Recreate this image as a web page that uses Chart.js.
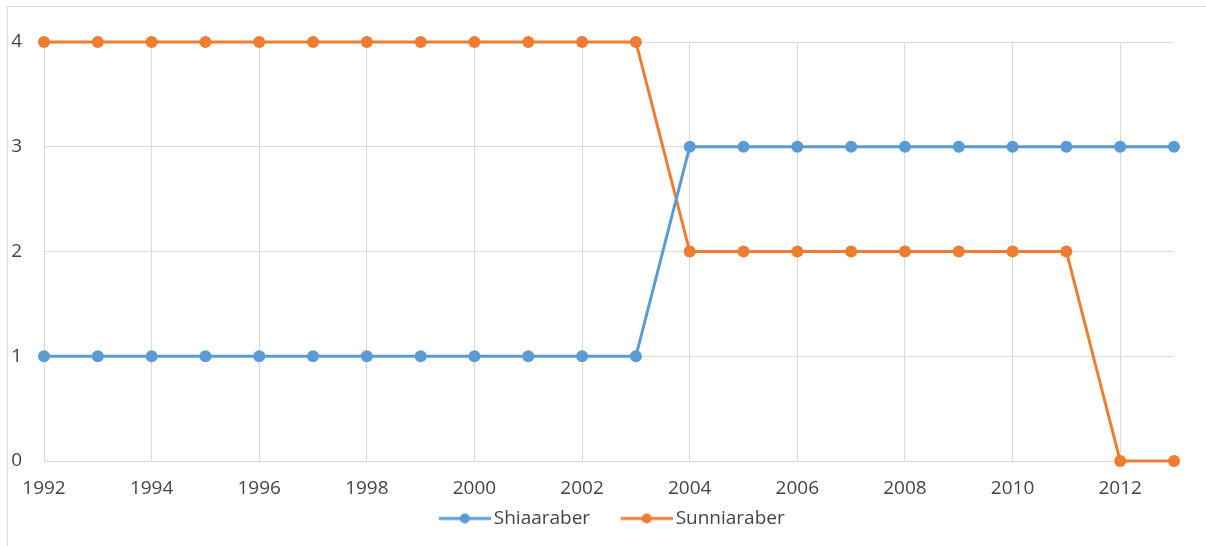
<!DOCTYPE html>
<html>
<head>
<meta charset="utf-8">
<script src="https://cdn.jsdelivr.net/npm/chart.js@4.4.1/dist/chart.umd.min.js"></script>
<style>
  html, body { margin: 0; padding: 0; background: #ffffff; }
  #wrap { position: relative; width: 1206px; height: 546px; }
</style>
</head>
<body>
<div id="wrap"><canvas id="chart" width="1206" height="546"></canvas></div>
<script>
// Years and values per group
const years = [1992, 1993, 1994, 1995, 1996, 1997, 1998, 1999, 2000, 2001, 2002,
               2003, 2004, 2005, 2006, 2007, 2008, 2009, 2010, 2011, 2012, 2013];
const shiaaraber  = [1, 1, 1, 1, 1, 1, 1, 1, 1, 1, 1, 1, 3, 3, 3, 3, 3, 3, 3, 3, 3, 3];
const sunniaraber = [4, 4, 4, 4, 4, 4, 4, 4, 4, 4, 4, 4, 2, 2, 2, 2, 2, 2, 2, 2, 0, 0];
const yTicks = [0, 1, 2, 3, 4];
const seriesNames = ['Shiaaraber', 'Sunniaraber'];

const BLUE = '#5b9bd5';
const ORANGE = '#ed7d31';
const GRID = '#d9d9d9';
const TEXT = '#454545';
const FONT = '"Open Sans", "Liberation Sans", sans-serif';

// Legend marker: a short line with a dot in the middle
function legendMarker(color) {
  const c = document.createElement('canvas');
  c.width = 82; c.height = 14;
  const g = c.getContext('2d');
  g.strokeStyle = color;
  g.lineWidth = 3;
  g.beginPath();
  g.moveTo(30, 7); g.lineTo(82, 7);
  g.stroke();
  g.fillStyle = color;
  g.beginPath();
  g.arc(56, 7, 5, 0, Math.PI * 2);
  g.fill();
  return c;
}

function toPoints(vals) {
  return vals.map((v, i) => ({ x: years[i], y: v }));
}

// Outer frame line along the left and top edges
const framePlugin = {
  id: 'frame',
  beforeDraw(chart) {
    const ctx = chart.ctx;
    ctx.save();
    ctx.strokeStyle = GRID;
    ctx.lineWidth = 1;
    ctx.beginPath();
    ctx.moveTo(7.5, chart.height);
    ctx.lineTo(7.5, 6.5);
    ctx.lineTo(chart.width, 6.5);
    ctx.stroke();
    ctx.restore();
  }
};

// Nudge the legend row a little to the right
const legendShift = {
  id: 'legendShift',
  afterLayout(chart) {
    if (chart.legend) {
      chart.legend.left += 13;
      chart.legend.right += 13;
    }
  }
};

function series(label, vals, color) {
  return {
    label,
    data: toPoints(vals),
    borderColor: color,
    backgroundColor: color,
    borderWidth: 3,
    pointRadius: 6,
    pointHoverRadius: 6,
    pointBorderWidth: 0,
    pointStyle: 'circle',
    tension: 0,
    clip: false
  };
}

new Chart(document.getElementById('chart'), {
  type: 'line',
  data: {
    datasets: [
      series(seriesNames[0], shiaaraber, BLUE),
      series(seriesNames[1], sunniaraber, ORANGE)
    ]
  },
  options: {
    responsive: false,
    animation: false,
    layout: { padding: { left: 0, right: 32, top: 42, bottom: 8 } },
    plugins: {
      tooltip: { enabled: false },
      legend: {
        position: 'bottom',
        labels: {
          color: TEXT,
          font: { family: FONT, size: 19 },
          usePointStyle: true,
          pointStyleWidth: 69,
          padding: 7,
          generateLabels(chart) {
            return chart.data.datasets.map((ds, i) => ({
              text: ds.label,
              fillStyle: ds.borderColor,
              strokeStyle: ds.borderColor,
              fontColor: TEXT,
              pointStyle: legendMarker(ds.borderColor),
              hidden: false,
              datasetIndex: i,
              lineWidth: 0
            }));
          }
        }
      }
    },
    scales: {
      x: {
        type: 'linear',
        min: years[0],
        max: years[years.length - 1],
        afterFit(scale) { scale.height = 41; },
        grid: { color: GRID, drawTicks: false, lineWidth: 1 },
        border: { color: GRID, width: 1 },
        ticks: {
          stepSize: 2,
          includeBounds: false,
          padding: 16,
          color: TEXT,
          font: { family: FONT, size: 19 },
          maxRotation: 0,
          callback: v => String(v)
        }
      },
      y: {
        min: yTicks[0],
        max: yTicks[yTicks.length - 1],
        afterFit(scale) { scale.width = 44; },
        grid: { color: GRID, drawTicks: false, lineWidth: 1 },
        border: { display: false },
        ticks: {
          stepSize: 1,
          padding: 22,
          color: TEXT,
          font: { family: FONT, size: 19 }
        }
      }
    }
  },
  plugins: [framePlugin, legendShift]
});
</script>
</body>
</html>
